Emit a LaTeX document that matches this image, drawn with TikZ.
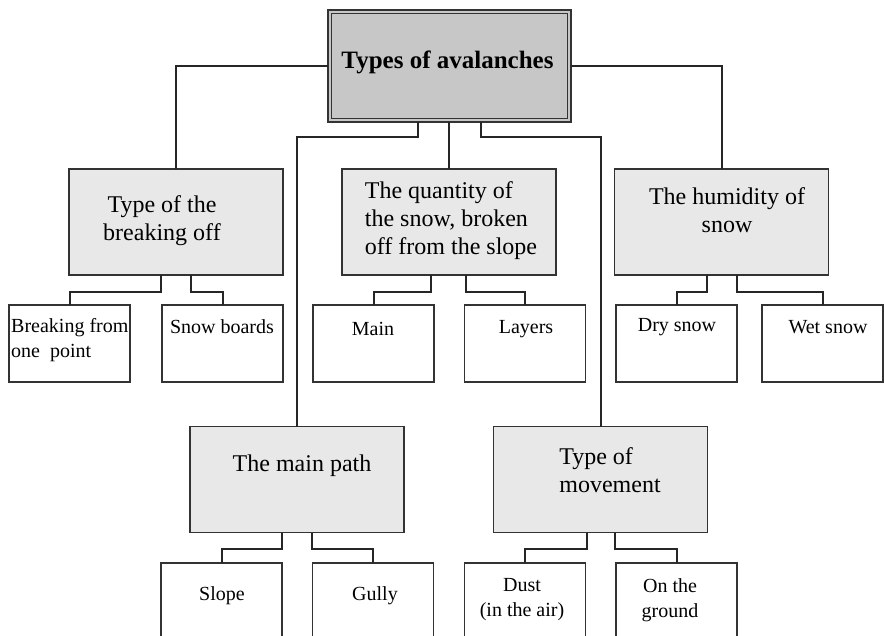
\documentclass[tikz,border=0pt]{standalone}
\usepackage{fontspec}
\setmainfont{Liberation Serif}
\begin{document}
\begin{tikzpicture}[x=1pt,y=-1pt,
  conn/.style={draw=black!85, line width=2pt},
  topbox/.style={draw=black!80, line width=2pt, fill=black!22, rectangle, inner sep=0, outer sep=0, minimum width=243pt, minimum height=112pt},
  catbox/.style={draw=black!80, line width=1.5pt, fill=black!9, rectangle, inner sep=0, outer sep=0, minimum width=214pt, minimum height=106pt},
  leaf/.style={draw=black!80, line width=1.5pt, fill=white, rectangle, inner sep=0, outer sep=0, minimum width=121pt, minimum height=77pt},
  lowleaf/.style={leaf, minimum height=100pt},
  toptxt/.style={font=\bfseries\fontsize{25}{29}\selectfont, inner sep=0},
  bigtxt/.style={font=\fontsize{24}{28}\selectfont, inner sep=0},
  smalltxt/.style={font=\fontsize{20}{25}\selectfont, inner sep=0}]
\useasboundingbox (0,0) rectangle (884,636);
\clip (0,0) rectangle (884,636);

% boxes
\node[topbox] (top) at (449.5,66) {};
\draw[draw=black!80, line width=1.1pt] ([shift={(3.5,3.5)}]top.north west) rectangle ([shift={(-3.5,-3.5)}]top.south east);

\node[catbox] (b1) at (176,222) {};
\node[catbox] (q) at (449,222) {};
\node[catbox] (h) at (721.5,222) {};

\node[leaf] (c11) at (69.5,343.5) {};
\node[leaf] (c12) at (222.5,343.5) {};
\node[leaf] (c21) at (373.5,343.5) {};
\node[leaf] (c22) at (525,343.5) {};
\node[leaf] (c31) at (676.5,343.5) {};
\node[leaf] (c32) at (822.5,343.5) {};

\node[catbox] (mp) at (297,479.5) {};
\node[catbox] (mv) at (600.5,479.5) {};

\node[lowleaf] (d11) at (221.5,613) {};
\node[lowleaf] (d12) at (373,613) {};
\node[lowleaf] (d21) at (525,613) {};
\node[lowleaf] (d22) at (676.5,613) {};

% connectors
\draw[conn] (top.west) -| (b1.north);
\draw[conn] (top.east) -| (h.north);
\draw[conn] (top.south -| q.north) -- (q.north);
\draw[conn] ([xshift=-31.5]top.south) -- ++(0,15) -| (mp.north);
\draw[conn] ([xshift=31.5]top.south) -- ++(0,15) -| (mv.north);

\draw[conn] ([xshift=-15]b1.south) -- ++(0,17) -| (c11.north);
\draw[conn] ([xshift=15]b1.south) -- ++(0,17) -| (c12.north);
\draw[conn] ([xshift=-18]q.south) -- ++(0,17) -| (c21.north);
\draw[conn] ([xshift=17]q.south) -- ++(0,17) -| (c22.north);
\draw[conn] ([xshift=-15]h.south) -- ++(0,17) -| (c31.north);
\draw[conn] ([xshift=15]h.south) -- ++(0,17) -| (c32.north);

\draw[conn] ([xshift=-15]mp.south) -- ++(0,16) -| (d11.north);
\draw[conn] ([xshift=15]mp.south) -- ++(0,16) -| (d12.north);
\draw[conn] ([xshift=-14]mv.south) -- ++(0,16) -| (d21.north);
\draw[conn] ([xshift=14]mv.south) -- ++(0,16) -| (d22.north);

% texts
\node[toptxt] (ttop) at (447.5,62) {Types of avalanches};
\node[bigtxt, align=center] (tb1) at (162,221) {Type of the\\breaking off};
\node[bigtxt, align=left] (tq) at (451,221) {The quantity of\\the snow, broken\\off from the slope};
\node[bigtxt, align=center] (th) at (727,210) {The humidity of\\snow};
\node[bigtxt] (tmp) at (302,466) {The main path};
\node[bigtxt, align=left] (tmv) at (610,470) {Type of\\movement};

\node[smalltxt, align=left, anchor=west] (tc11) at (11,340) {Breaking from\\one\ \ point};
\node[smalltxt] (tc12) at (222,327) {Snow boards};
\node[smalltxt] (tc21) at (373,329) {Main};
\node[smalltxt] (tc22) at (526,329) {Layers};
\node[smalltxt] (tc31) at (677,327) {Dry snow};
\node[smalltxt] (tc32) at (828,327) {Wet snow};

\node[smalltxt] (td11) at (222,596) {Slope};
\node[smalltxt] (td12) at (375,596) {Gully};
\node[smalltxt, align=center] (td21) at (522,600) {Dust\\(in the air)};
\node[smalltxt, align=center] (td22) at (670,600) {On the\\ground};
\end{tikzpicture}
\end{document}
